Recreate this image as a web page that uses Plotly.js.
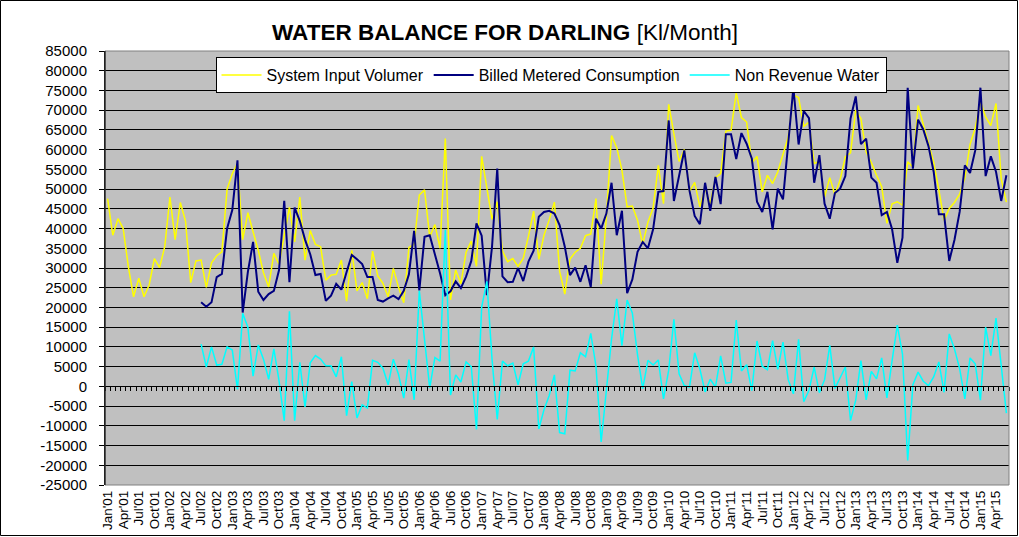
<!DOCTYPE html>
<html>
<head>
<meta charset="utf-8">
<script src="https://cdn.plot.ly/plotly-3.0.1.min.js"></script>
<style>html,body{margin:0;padding:0;background:#fff;}#chart{width:1019px;height:537px;}</style>
</head>
<body>
<div id="chart"></div>
<script>
// ---- categories (months Jan'01 .. Jun'15) ----
const monthNames = ["Jan","Feb","Mar","Apr","May","Jun","Jul","Aug","Sep","Oct","Nov","Dec"];
const nMonths = 174;
const categories = [];
for (let y = 1; categories.length < nMonths; y++) {
  for (const m of monthNames) {
    if (categories.length < nMonths) categories.push(m + "'" + String(y).padStart(2, "0"));
  }
}
// tick labels every 3 months
const tickLabels = categories.filter((c, i) => i % 3 === 0);

// ---- series values (Kl/Month) ----
const systemInput = [
47600,38300,42500,40000,30300,22700,27400,22700,25700,32400,30100,35400,
48000,37200,46600,41900,26300,31800,32000,25100,31300,33100,34100,50000,
53900,56500,37200,44000,39200,34500,28800,25200,33700,30900,38300,45400,
36600,48000,32000,39500,36000,35400,26900,28200,28400,32000,21600,34500,
24200,26300,22200,34300,28000,26100,22700,29900,25100,21200,35200,36000,
48500,49800,37900,41000,35000,62800,21900,29500,26000,34000,36800,30400,
58300,49700,42300,46800,34300,31600,32400,30400,32400,38000,44400,32200,
38300,42200,46700,29200,23400,32300,34000,35000,38200,38600,47600,25900,
43000,63600,60500,54800,45500,45700,42100,36000,41600,45200,56000,46300,
71500,64000,57000,60000,49400,51700,45500,50200,46300,52900,53900,64700,
64900,74400,68100,67000,56600,58300,49300,53500,51400,54400,58600,63200,
73800,73200,65900,67000,56500,57000,48000,52900,48500,52400,58200,59200,
70000,67900,59400,56700,53500,50600,41300,46300,46800,45900,56900,55600,
71200,66400,61100,56800,49800,42100,45100,46600,48700,52800,61300,65500,
72200,68300,66100,71700,52600,46700
];
// Billed metered consumption and NRW start in Jul'02 (index 18)
const seriesStart = 18;
const billedValues = [
21300,20200,21300,27700,28500,40000,
44700,57300,18700,29000,36600,24000,21900,23400,24200,29500,47000,26400,
45300,41900,37200,33500,28200,28500,21700,23000,26000,24500,29000,33300,
32200,31000,27700,27700,21900,21500,22300,23000,22100,24200,28400,39400,
24300,37900,38300,33700,28600,23100,24100,26600,24900,27800,31800,41300,
38200,23100,35500,55200,27900,26400,26500,30000,26700,31600,34400,43000,
44200,44500,43800,40900,35400,28200,30100,26500,30700,25200,42500,40000,
43800,51600,38300,44500,23600,27100,34100,36600,35000,39800,49300,49500,
67400,47000,53800,59800,49600,43200,41100,51600,44500,53100,46200,63900,
63900,57600,64200,61500,57700,46800,44200,49300,39800,50100,47400,61500,
75700,61300,69800,68000,51600,58600,46300,42500,49000,50100,53300,67900,
73500,61400,62800,52900,51600,43400,44200,39800,31300,37700,75700,55200,
67600,65100,60900,54400,43600,43600,31800,37100,44200,56000,54100,59800,
75700,53300,58300,54400,47000,53500
];
const nrwValues = [
10700,4900,10000,5400,5600,10000,
9200,-800,18500,15000,2600,10500,6900,1800,9500,1400,-8700,19000,
-8700,6100,-5200,6000,7800,6900,5200,5200,2400,7500,-7400,1200,
-8000,-4700,-5500,6600,6100,4600,400,6900,3000,-3000,6800,-3400,
24200,11900,-400,7300,6400,39700,-2200,2900,1100,6200,5000,-10900,
20100,26600,6800,-8400,6400,5200,5900,400,5700,6400,10000,-10800,
-5900,-2300,2900,-11700,-12000,4100,3900,8500,7500,13400,5100,-14100,
-800,12000,22200,10300,21900,18600,8000,-600,6600,5400,6700,-3200,
4100,17000,3200,200,-200,8500,4400,-1400,1800,-200,7700,800,
1000,16800,3900,5500,-1100,11500,5100,4200,11600,4300,11200,1700,
-1900,11900,-3900,-1000,4900,-1600,1700,10400,-500,2300,4900,-8700,
-3500,6500,-3400,3800,1900,7200,-2900,6500,15500,8200,-18800,400,
3600,1300,200,2400,6200,-1500,13300,9500,4500,-3200,7200,5700,
-3500,15000,7800,17300,5600,-6800
];
const lead = Array(seriesStart).fill(null);
const billed = lead.concat(billedValues);
const nrw = lead.concat(nrwValues);

// y ticks
const yTickVals = [];
for (let v = -25000; v <= 85000; v += 5000) yTickVals.push(v);
const yTickText = yTickVals.map(v => String(v));

const FONT = "Liberation Sans, Arial, sans-serif";

const traces = [
  {x: categories, y: systemInput, type: "scatter", mode: "lines", name: "System Input Volumer",
   line: {color: "#FFFF00", width: 1.5}, connectgaps: false},
  {x: categories, y: billed, type: "scatter", mode: "lines", name: "Billed Metered Consumption",
   line: {color: "#000080", width: 2}, connectgaps: false},
  {x: categories, y: nrw, type: "scatter", mode: "lines", name: "Non Revenue Water",
   line: {color: "#00FFFF", width: 1.5}, connectgaps: false},
  // carrier for the zero-line category axis with monthly ticks
  {x: [0], y: [null], xaxis: "x2", yaxis: "y", type: "scatter", mode: "lines",
   showlegend: false, hoverinfo: "skip"}
];

// plot area in pixels: x 105..1009, y 51..485
const L = 105, R = 1009, T = 51, B = 485;
const PW = R - L, PH = B - T;
const px = p => (p - L) / PW;
const py = p => (B - p) / PH;

const layout = {
  width: 1019, height: 537,
  margin: {l: L, r: 1019 - R, t: T, b: 537 - B, pad: 0},
  paper_bgcolor: "#FFFFFF",
  plot_bgcolor: "#C0C0C0",
  font: {family: FONT, color: "#000"},
  showlegend: true,
  title: {
    text: "<b>WATER BALANCE FOR DARLING</b> [Kl/Month]",
    x: 505 / 1019, xanchor: "center", xref: "container",
    y: 1 - 32 / 537, yanchor: "middle", yref: "container",
    font: {family: FONT, size: 22.5, color: "#000"}
  },
  xaxis: {
    type: "category",
    range: [-0.5, nMonths - 0.5],
    tickvals: tickLabels, ticktext: tickLabels,
    tickangle: -90,
    ticks: "", showgrid: false, zeroline: false, showline: false,
    tickfont: {family: FONT, size: 13.5, color: "#000"},
    ticklabelstandoff: 2,
    fixedrange: true
  },
  xaxis2: {
    overlaying: "x", anchor: "free", position: 25 / 110, side: "bottom",
    range: [-0.5, nMonths - 0.5],
    tick0: -0.5, dtick: 1,
    ticks: "outside", ticklen: 4, tickwidth: 1, tickcolor: "#000",
    showticklabels: false, showgrid: false, zeroline: false,
    showline: true, linecolor: "#000", linewidth: 1,
    fixedrange: true
  },
  yaxis: {
    range: [-25000, 85000],
    tickvals: yTickVals, ticktext: yTickText,
    showgrid: true, gridcolor: "#000", gridwidth: 1,
    zeroline: false,
    showline: true, linecolor: "#000", linewidth: 1,
    ticks: "outside", ticklen: 5, tickcolor: "#000",
    tickfont: {family: FONT, size: 15, color: "#000"},
    ticklabelstandoff: 9,
    fixedrange: true
  },
  legend: {
    orientation: "h",
    x: px(551), xanchor: "center",
    y: py(57), yanchor: "top",
    bgcolor: "#FFFFFF", bordercolor: "#000", borderwidth: 1,
    font: {family: FONT, size: 16, color: "#000"},
    itemwidth: 40
  },
  shapes: [
    // plot area border
    {type: "rect", xref: "paper", yref: "paper", x0: 0, x1: 1, y0: 0, y1: 1,
     line: {color: "#808080", width: 1}, fillcolor: "rgba(0,0,0,0)", layer: "above"},
    {type: "line", xref: "paper", yref: "paper", x0: 0, x1: 0, y0: 0, y1: 1,
     line: {color: "#000", width: 1}, layer: "above"},
    // outer chart border
    {type: "rect", xref: "paper", yref: "paper",
     x0: px(0.5), x1: px(1017.5), y0: py(535.5), y1: py(0.5),
     line: {color: "#000", width: 1}, fillcolor: "rgba(0,0,0,0)", layer: "above"}
  ]
};

Plotly.newPlot("chart", traces, layout, {staticPlot: true, displayModeBar: false});
</script>
</body>
</html>
